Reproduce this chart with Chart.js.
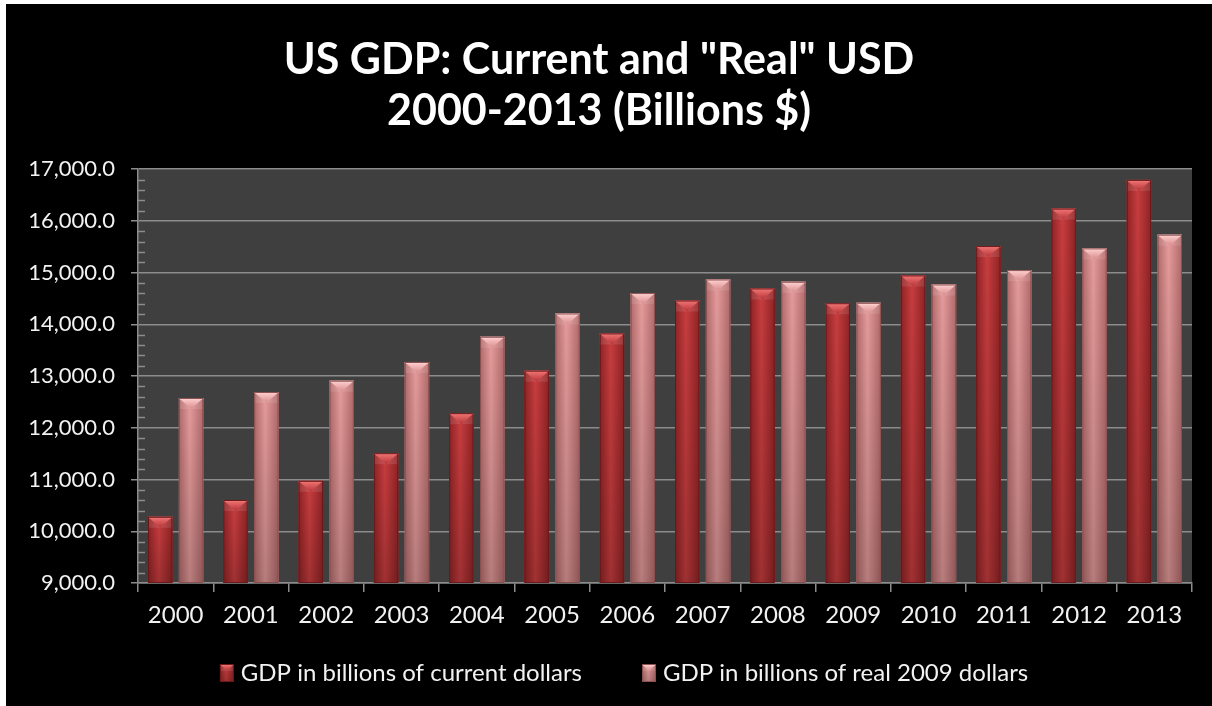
<!DOCTYPE html>
<html>
<head>
<meta charset="utf-8">
<title>US GDP: Current and "Real" USD</title>
<script src="https://cdn.jsdelivr.net/npm/chart.js@4.4.1/dist/chart.umd.min.js"></script>
<style>
  html, body { margin: 0; padding: 0; background: #ffffff; }
  #wrap { position: absolute; left: 6px; top: 4px; width: 1206px; height: 702px; background: #000000; }
</style>
</head>
<body>
<div id="wrap"><canvas id="gdpChart"></canvas></div>
<script>
// GDP, billions of dollars
const years = ['2000', '2001', '2002', '2003', '2004', '2005', '2006',
               '2007', '2008', '2009', '2010', '2011', '2012', '2013'];
const currentGdp = [10280, 10605, 10975, 11510, 12284, 13105, 13825,
                    14461, 14694, 14409, 14946, 15514, 16238, 16793];
const realGdp = [12576, 12692, 12911, 13273, 13760, 14210, 14605,
                 14868, 14824, 14417, 14771, 15049, 15469, 15734];

const seriesNames = ['GDP in billions of current dollars', 'GDP in billions of real 2009 dollars'];
const chartTitle = ['US GDP: Current and "Real" USD', '2000-2013 (Billions $)'];

// y axis range and tick steps
const yMin = 9000;
const yMax = 17000;
const yStep = 1000;
const yMinorStep = 200;

const FONT = 'Lato';
const gridColor = '#8c8c8c';

// colours for the bevelled bars
const barLook = [
    { edge: '#8f2325', mid: '#c83d3f', face: '#b83234', tip: '#f27878', line: '#6a1819' },
    { edge: '#b26a6b', mid: '#e59b9b', face: '#d98a8a', tip: '#ffd2d2', line: '#8a5050' }
];

function paintBar(ctx, left, top, w, h, look, bevel) {
    if (h <= 0 || w <= 0) return;
    const right = left + w;
    const bottom = top + h;
    const cx = left + w / 2;

    // round body
    const hg = ctx.createLinearGradient(left, 0, right, 0);
    hg.addColorStop(0, look.edge);
    hg.addColorStop(0.45, look.mid);
    hg.addColorStop(1, look.edge);
    ctx.fillStyle = hg;
    ctx.fillRect(left, top, w, h);

    // darker toward the base
    const vg = ctx.createLinearGradient(0, top, 0, bottom);
    vg.addColorStop(0, 'rgba(0,0,0,0)');
    vg.addColorStop(1, 'rgba(0,0,0,0.2)');
    ctx.fillStyle = vg;
    ctx.fillRect(left, top, w, h);

    // pointed cap
    const b = Math.min(bevel, h);
    ctx.fillStyle = 'rgba(255,255,255,0.10)';
    ctx.fillRect(left, top, w, b);
    const tg = ctx.createLinearGradient(0, top, 0, top + b);
    tg.addColorStop(0, look.tip);
    tg.addColorStop(1, look.face);
    ctx.fillStyle = tg;
    ctx.beginPath();
    ctx.moveTo(left + 1, top + 1);
    ctx.lineTo(right - 1, top + 1);
    ctx.lineTo(cx, top + b);
    ctx.closePath();
    ctx.fill();
    ctx.fillStyle = look.tip;
    ctx.fillRect(left, top, w, 1.5);

    ctx.strokeStyle = look.line;
    ctx.lineWidth = 1;
    ctx.strokeRect(left + 0.5, top + 0.5, w - 1, h - 1);
}

// legend swatch: the visible box sits at the right end, the blank left part
// spaces the two legend entries apart
const swatchSlot = 59;
function legendSwatch(look) {
    const c = document.createElement('canvas');
    c.width = swatchSlot + 10;
    c.height = 18;
    paintBar(c.getContext('2d'), c.width - 14, 0, 14, 18, look, 7);
    return c;
}

const plotBackground = {
    id: 'plotBackground',
    beforeDraw(chart) {
        const { ctx, chartArea: a } = chart;
        ctx.save();
        ctx.fillStyle = '#3f3f3f';
        ctx.fillRect(a.left, a.top, a.right - a.left, a.bottom - a.top);
        ctx.restore();
    }
};

const minorTicks = {
    id: 'minorTicks',
    afterDraw(chart) {
        const { ctx, chartArea: a } = chart;
        const y = chart.scales.y;
        ctx.save();
        ctx.strokeStyle = gridColor;
        ctx.lineWidth = 1.5;
        ctx.beginPath();
        for (let v = yMin + yMinorStep; v < yMax; v += yMinorStep) {
            if (v % yStep === 0) continue;
            const py = Math.round(y.getPixelForValue(v)) + 0.5;
            ctx.moveTo(a.left, py);
            ctx.lineTo(a.left + 7, py);
        }
        ctx.stroke();
        ctx.restore();
    }
};

// repaint each bar with a rounded body and a pointed cap, cut at the x axis
const bevelBars = {
    id: 'bevelBars',
    afterDatasetsDraw(chart) {
        const { ctx, chartArea: a } = chart;
        ctx.save();
        chart.data.datasets.forEach((ds, i) => {
            const meta = chart.getDatasetMeta(i);
            meta.data.forEach(bar => {
                const { x, y, base, width } = bar.getProps(['x', 'y', 'base', 'width'], true);
                const bottom = Math.min(base, a.bottom);
                paintBar(ctx, x - width / 2, y, width, bottom - y, barLook[i], 11);
            });
        });
        ctx.restore();
    }
};

new Chart(document.getElementById('gdpChart'), {
    type: 'bar',
    data: {
        labels: years,
        datasets: [
            {
                label: seriesNames[0],
                data: currentGdp,
                backgroundColor: barLook[0].mid,
                categoryPercentage: 0.82,
                barPercentage: 0.79
            },
            {
                label: seriesNames[1],
                data: realGdp,
                backgroundColor: barLook[1].mid,
                categoryPercentage: 0.82,
                barPercentage: 0.79
            }
        ]
    },
    options: {
        responsive: true,
        maintainAspectRatio: false,
        animation: false,
        events: [],
        layout: { padding: { left: 0, right: 20, top: 0, bottom: 11 } },
        scales: {
            x: {
                grid: {
                    offset: true,
                    drawOnChartArea: false,
                    drawTicks: true,
                    tickLength: 9,
                    color: gridColor,
                    lineWidth: 1.5
                },
                border: { display: true, color: gridColor, width: 1.5 },
                ticks: {
                    color: '#f2f2f2',
                    font: { family: FONT, size: 24 },
                    padding: 9,
                    maxRotation: 0
                },
                afterFit(scale) { scale.height = 68; }
            },
            y: {
                min: yMin,
                max: yMax,
                grid: {
                    color: gridColor,
                    lineWidth: 1.5,
                    drawTicks: true,
                    tickLength: 7
                },
                border: { display: true, color: gridColor, width: 1.5 },
                ticks: {
                    stepSize: yStep,
                    color: '#f2f2f2',
                    font: { family: FONT, size: 22 },
                    padding: 16,
                    callback: v => v.toLocaleString('en-US', { minimumFractionDigits: 1, maximumFractionDigits: 1 })
                },
                afterFit(scale) { scale.width = 132; }
            }
        },
        plugins: {
            title: {
                display: true,
                text: chartTitle,
                color: '#ffffff',
                font: { family: FONT, size: 43, weight: 'bold', lineHeight: 1.2 },
                padding: { top: 30, bottom: 32 }
            },
            legend: {
                position: 'bottom',
                labels: {
                    color: '#f2f2f2',
                    font: { family: FONT, size: 24 },
                    usePointStyle: true,
                    pointStyleWidth: swatchSlot,
                    boxHeight: 18,
                    padding: 10,
                    generateLabels(chart) {
                        return chart.data.datasets.map((ds, i) => ({
                            text: ds.label,
                            fontColor: '#f2f2f2',
                            pointStyle: legendSwatch(barLook[i]),
                            datasetIndex: i,
                            hidden: false,
                            lineWidth: 0
                        }));
                    }
                }
            },
            tooltip: { enabled: false }
        }
    },
    plugins: [plotBackground, bevelBars, minorTicks]
});
</script>
</body>
</html>
